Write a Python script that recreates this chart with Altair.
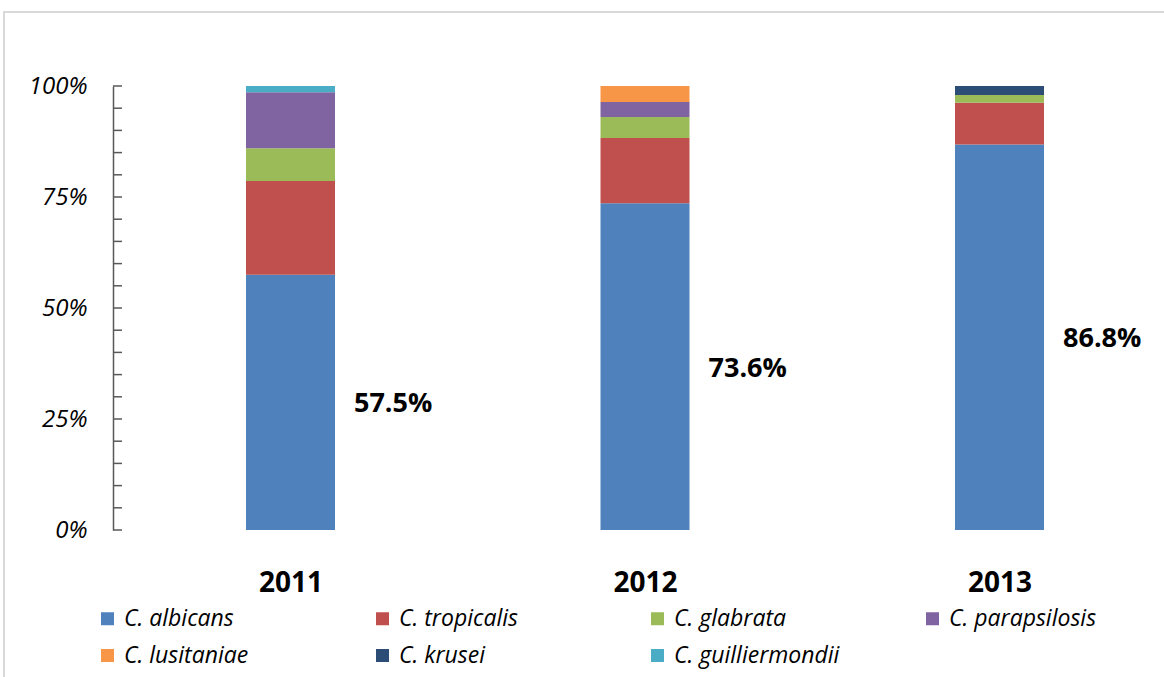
import altair as alt
import pandas as pd

years = [2011, 2012, 2013]
species = ["C. albicans", "C. tropicalis", "C. glabrata", "C. parapsilosis",
           "C. lusitaniae", "C. krusei", "C. guilliermondii"]
colors = ["#4F81BD", "#C0504D", "#9BBB59", "#8064A2", "#F79646", "#2C4D75", "#4BACC6"]

albicans = [57.5, 73.6, 86.8]
tropicalis = [21.1, 14.7, 9.4]
glabrata = [7.4, 4.7, 1.8]
parapsilosis = [12.6, 3.4, 0.0]
lusitaniae = [0.0, 3.6, 0.0]
krusei = [0.0, 0.0, 2.0]
guilliermondii = [1.4, 0.0, 0.0]

albicans_labels = ["57.5%", "73.6%", "86.8%"]
y_tick_values = [0, 5, 10, 15, 20, 25, 30, 35, 40, 45, 50, 55, 60, 65, 70, 75, 80, 85, 90, 95, 100]
y_label_values = [0, 25, 50, 75, 100]

series = [albicans, tropicalis, glabrata, parapsilosis, lusitaniae, krusei, guilliermondii]
rows = []
for i, (sp, vals) in enumerate(zip(species, series)):
    for y, v in zip(years, vals):
        rows.append({"year": y, "species": sp, "idx": i, "value": v})
df = pd.DataFrame(rows)

lab_df = pd.DataFrame({"year": years, "albicans": albicans, "label": albicans_labels})
tick_df = pd.DataFrame({"t": y_tick_values})

W, H = 1040, 444
x_scale = alt.Scale(domain=[2010.4993, 2013.433], nice=False, zero=False, padding=0)
y_scale = alt.Scale(domain=[0, 100], nice=False, padding=0)

FONT = "Open Sans"

x_axis = alt.Axis(values=years, format="d", title=None, grid=False, domain=False,
                  ticks=False, tickSize=0, labelPadding=39, labelFontSize=28,
                  labelFontWeight="bold", labelFont=FONT, labelColor="#000000",
                  labelFlush=False)
y_axis = alt.Axis(values=y_label_values, labelExpr="datum.value + '%'", title=None,
                  grid=False, domain=True, domainColor="#595959", domainWidth=1.5,
                  ticks=False, tickSize=0, labelPadding=26, labelFontSize=24,
                  labelFontStyle="italic", labelFont=FONT, labelColor="#000000")

bars = alt.Chart(df).mark_bar(size=89).encode(
    x=alt.X("year:Q", scale=x_scale, axis=x_axis),
    y=alt.Y("value:Q", stack="zero", scale=y_scale, axis=y_axis),
    color=alt.Color("species:N", scale=alt.Scale(domain=species, range=colors),
                    legend=alt.Legend(title=None, orient="none", legendX=-17, legendY=521,
                                      direction="horizontal", columns=4, gridAlign="all",
                                      columnPadding=81, rowPadding=13, symbolType="square",
                                      symbolSize=169, symbolStrokeWidth=0, labelOffset=5,
                                      labelFontSize=23, labelFontStyle="italic",
                                      labelFont=FONT, labelColor="#000000", labelLimit=400,
                                      padding=0)),
    order=alt.Order("idx:Q", sort="ascending"),
)

labels = alt.Chart(lab_df).transform_calculate(
    mid="datum.albicans / 2"
).mark_text(align="left", baseline="middle", dx=63.5, dy=2, fontSize=27, fontWeight="bold",
            font=FONT, color="#000000").encode(
    x=alt.X("year:Q", scale=x_scale, axis=x_axis),
    y=alt.Y("mid:Q", scale=y_scale, axis=y_axis),
    text="label:N",
)

ticks = alt.Chart(tick_df).mark_rule(color="#595959", strokeWidth=1.5).encode(
    y=alt.Y("t:Q", scale=y_scale, axis=y_axis),
    x=alt.value(0),
    x2=alt.value(9),
)

one = pd.DataFrame({"a": [0]})
border_top = alt.Chart(one).mark_rule(color="#D9D9D9", strokeWidth=2).encode(
    x=alt.value(-110), x2=alt.value(1051), y=alt.value(-74)
)
border_left = alt.Chart(one).mark_rule(color="#D9D9D9", strokeWidth=2).encode(
    x=alt.value(-109), y=alt.value(-74), y2=alt.value(591)
)

chart = alt.layer(border_top, border_left, bars, ticks, labels).properties(
    width=W, height=H,
    background="#FFFFFF",
    autosize=alt.AutoSizeParams(type="none"),
    padding={"left": 113, "top": 86, "right": 11, "bottom": 147},
).configure_view(strokeWidth=0, stroke="transparent")

chart.save("out.html", embed_options={"renderer": "svg", "actions": False})
